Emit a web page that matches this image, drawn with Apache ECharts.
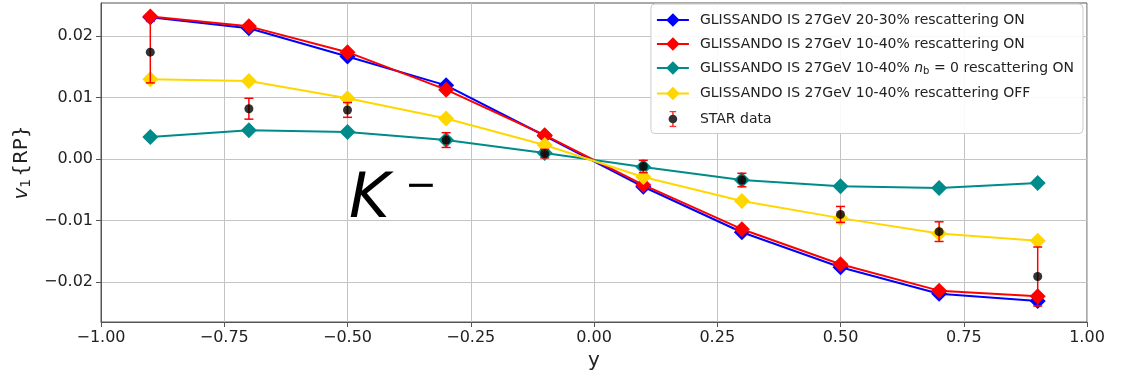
<!DOCTYPE html>
<html>
<head>
<meta charset="utf-8">
<script src="https://cdn.jsdelivr.net/npm/echarts@6/dist/echarts.min.js"></script>
<style>
  html, body { margin: 0; padding: 0; background: #fff; }
  #chart { width: 1121px; height: 385px; }
</style>
</head>
<body>
<div id="chart"></div>
<script>
// Rapidity bins
const rapidity = [-0.9, -0.7, -0.5, -0.3, -0.1, 0.1, 0.3, 0.5, 0.7, 0.9];

// Model curves, v1{RP} of K-
const glissando2030On = [0.0231, 0.0213, 0.0167, 0.0120, 0.0038, -0.0045, -0.0119, -0.0176, -0.0219, -0.0231];
const glissando1040On = [0.0232, 0.0216, 0.0174, 0.0113, 0.0039, -0.0042, -0.0114, -0.0171, -0.0214, -0.0223];
const glissandoNb0On  = [0.0036, 0.0047, 0.0044, 0.0031, 0.0010, -0.0013, -0.0034, -0.0044, -0.0047, -0.0039];
const glissando1040Off = [0.0130, 0.0127, 0.0099, 0.0066, 0.0023, -0.0029, -0.0068, -0.0096, -0.0121, -0.0133];

// Measurement with uncertainties
const starV1  = [0.0174, 0.0082, 0.0080, 0.0031, 0.0009, -0.0012, -0.0034, -0.0090, -0.0118, -0.0191];
const starErr = [0.0050, 0.0017, 0.0012, 0.0012, 0.0007, 0.0010, 0.0011, 0.0013, 0.0016, 0.0048];

// Axis ticks
const xTicks = [-1.0, -0.75, -0.5, -0.25, 0.0, 0.25, 0.5, 0.75, 1.0];
const yTicks = [-0.02, -0.01, 0.0, 0.01, 0.02];

const NAME_2030_ON = 'GLISSANDO IS 27GeV 20-30% rescattering ON';
const NAME_1040_ON = 'GLISSANDO IS 27GeV 10-40% rescattering ON';
const NAME_NB0_ON = 'GLISSANDO IS 27GeV 10-40% nb=0 rescattering ON';
const NAME_1040_OFF = 'GLISSANDO IS 27GeV 10-40% rescattering OFF';
const NAME_STAR = 'STAR data';

const pair = (xs, ys) => xs.map((x, i) => [x, ys[i]]);
const fmt = (v, d) => {
  let s = Math.abs(v) < 1e-12 ? (0).toFixed(d) : v.toFixed(d);
  return s.replace('-', '\u2212');
};

const FONT = 'DejaVu Sans';

// Legend handle for the measurement: red error bar with a black dot
const errorbarIcon = 'image://data:image/svg+xml;charset=utf-8,' + encodeURIComponent(
  "<svg xmlns='http://www.w3.org/2000/svg' width='32' height='18' viewBox='0 0 32 18'>" +
  "<path d='M16 1V17M12.5 1H19.5M12.5 17H19.5' stroke='#ff0000' stroke-width='1.6' fill='none'/>" +
  "<circle cx='16' cy='9' r='4.6' fill='#000000'/></svg>"
);

function lineSeries(name, ys, color, z) {
  return {
    name: name,
    type: 'line',
    data: pair(rapidity, ys),
    color: color,
    symbol: 'diamond',
    symbolSize: 16,
    showSymbol: true,
    lineStyle: { color: color, width: 2 },
    itemStyle: { color: color },
    emphasis: { disabled: true },
    animation: false,
    z: z
  };
}

const chart = echarts.init(document.getElementById('chart'), null, { renderer: 'canvas' });

const option = {
  animation: false,
  backgroundColor: '#ffffff',
  textStyle: { fontFamily: FONT },
  grid: {
    left: 101, right: 34, top: 3, bottom: 63,
    show: true, borderColor: '#555', borderWidth: 1, backgroundColor: 'transparent'
  },
  xAxis: {
    type: 'value',
    min: -1, max: 1, interval: 0.25,
    name: 'y',
    nameLocation: 'middle',
    nameGap: 26,
    nameTextStyle: { fontFamily: FONT, fontSize: 20, color: '#222' },
    axisLine: { show: true, onZero: false, lineStyle: { color: '#555', width: 1 } },
    axisTick: { show: true, inside: false, length: 5, lineStyle: { color: '#555' }, customValues: xTicks },
    axisLabel: { fontFamily: FONT, fontSize: 16, color: '#222', margin: 8, formatter: v => fmt(v, 2), customValues: xTicks },
    splitLine: { show: true, lineStyle: { color: '#c4c4c4', width: 1 } }
  },
  yAxis: {
    type: 'value',
    min: -0.0265, max: 0.0254,
    splitNumber: 5,
    name: '{v|v}{s|1}{RP}',
    nameLocation: 'middle',
    nameRotate: 90,
    nameGap: 62,
    nameTextStyle: {
      fontFamily: FONT, fontSize: 20, color: '#222',
      rich: {
        v: { fontFamily: FONT, fontSize: 20, fontStyle: 'italic', color: '#222' },
        s: { fontFamily: FONT, fontSize: 14, color: '#222', padding: [0, 2, -8, 0] }
      }
    },
    axisLine: { show: true, onZero: false, lineStyle: { color: '#555', width: 1 } },
    axisTick: { show: true, inside: false, length: 5, lineStyle: { color: '#555' }, customValues: yTicks },
    axisLabel: { fontFamily: FONT, fontSize: 16, color: '#222', margin: 8, formatter: v => fmt(v, 2), customValues: yTicks },
    splitLine: { show: true, lineStyle: { color: '#c4c4c4', width: 1 } }
  },
  legend: {
    orient: 'vertical',
    right: 38,
    top: 4,
    align: 'left',
    backgroundColor: 'rgba(255,255,255,0.9)',
    borderColor: '#cccccc',
    borderWidth: 1,
    borderRadius: 4,
    padding: [9, 9, 6, 5],
    itemGap: 10,
    itemWidth: 32,
    itemHeight: 17,
    data: [
      { name: NAME_2030_ON },
      { name: NAME_1040_ON },
      { name: NAME_NB0_ON },
      { name: NAME_1040_OFF },
      { name: NAME_STAR, icon: errorbarIcon }
    ],
    formatter: function (name) {
      if (name === NAME_NB0_ON) {
        return 'GLISSANDO IS 27GeV 10-40% {i|n}{sub|b}{eq| = 0} rescattering ON';
      }
      return name;
    },
    textStyle: {
      fontFamily: FONT, fontSize: 14, color: '#222', padding: [0, 0, 0, 6],
      rich: {
        i: { fontFamily: FONT, fontSize: 14, fontStyle: 'italic', color: '#222' },
        sub: { fontFamily: FONT, fontSize: 10, color: '#222', padding: [7, 0, 0, 0] },
        eq: { fontFamily: FONT, fontSize: 14, color: '#222' }
      }
    }
  },
  graphic: [
    {
      type: 'group',
      left: 349, top: 168,
      children: [
        { type: 'text', x: 0, y: 0, style: { text: 'K', fontFamily: FONT, fontSize: 62, fontStyle: 'italic', fill: '#000' } },
        { type: 'text', x: 56, y: -2, style: { text: '\u2212', fontFamily: FONT, fontSize: 38, fill: '#000' } }
      ]
    }
  ],
  series: [
    lineSeries(NAME_2030_ON, glissando2030On, '#0000ff', 2),
    lineSeries(NAME_1040_ON, glissando1040On, '#ff0000', 3),
    lineSeries(NAME_NB0_ON, glissandoNb0On, '#008b8b', 4),
    lineSeries(NAME_1040_OFF, glissando1040Off, '#ffd700', 5),
    {
      name: 'STAR errors',
      type: 'custom',
      data: rapidity.map((x, i) => [x, starV1[i], starErr[i]]),
      encode: { x: 0, y: 1 },
      z: 6,
      silent: true,
      animation: false,
      renderItem: function (params, api) {
        const x = api.value(0), y = api.value(1), e = api.value(2);
        const top = api.coord([x, y + e]);
        const bot = api.coord([x, y - e]);
        const cap = 4.5;
        const style = { stroke: '#ff0000', lineWidth: 1.5 };
        return {
          type: 'group',
          children: [
            { type: 'line', shape: { x1: top[0], y1: top[1], x2: bot[0], y2: bot[1] }, style: style },
            { type: 'line', shape: { x1: top[0] - cap, y1: top[1], x2: top[0] + cap, y2: top[1] }, style: style },
            { type: 'line', shape: { x1: bot[0] - cap, y1: bot[1], x2: bot[0] + cap, y2: bot[1] }, style: style }
          ]
        };
      }
    },
    {
      name: NAME_STAR,
      type: 'scatter',
      data: pair(rapidity, starV1),
      symbol: 'circle',
      symbolSize: 9,
      itemStyle: { color: '#000000' },
      emphasis: { disabled: true },
      animation: false,
      z: 7
    }
  ]
};

chart.setOption(option);
</script>
</body>
</html>
